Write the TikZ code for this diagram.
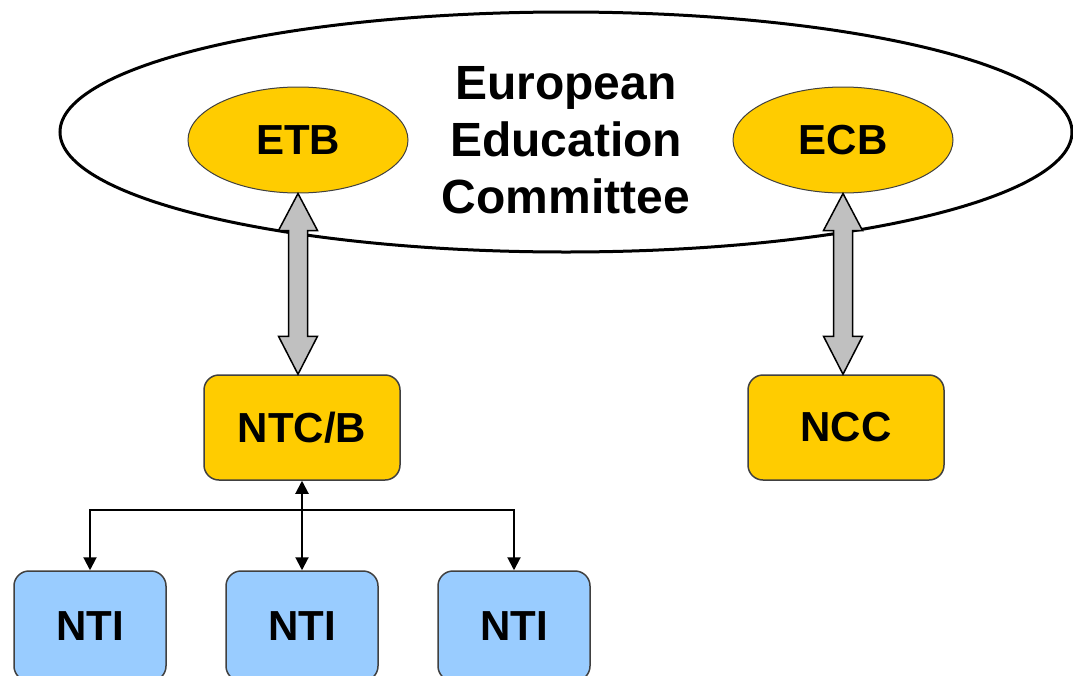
\documentclass[tikz,border=0pt]{standalone}
\usepackage{fontspec}
\setmainfont{Liberation Sans}
\usetikzlibrary{calc,arrows.meta,shapes.geometric}
\definecolor{gold}{HTML}{FFCC00}
\definecolor{sky}{HTML}{99CCFF}
\definecolor{edgegray}{HTML}{404040}
\definecolor{arrowgray}{HTML}{C0C0C0}
\begin{document}
\begin{tikzpicture}[x=1pt,y=-1pt,
  boxlabel/.style={font=\fontsize{42}{48}\selectfont\bfseries},
  goldbox/.style={rectangle, rounded corners=15pt, draw=edgegray, line width=1.5pt, fill=gold,
    minimum width=196pt, minimum height=105pt, inner sep=0pt, boxlabel},
  bluebox/.style={rectangle, rounded corners=15pt, draw=edgegray, line width=1.5pt, fill=sky,
    minimum width=152pt, minimum height=110pt, inner sep=0pt, boxlabel},
  goldoval/.style={ellipse, draw=edgegray, line width=1pt, fill=gold,
    minimum width=220pt, minimum height=106pt, inner sep=0pt, boxlabel},
  committee/.style={ellipse, draw=black, line width=3pt, minimum width=1012pt,
    minimum height=240pt, inner sep=0pt},
  titletext/.style={align=center, font=\fontsize{48}{57}\selectfont\bfseries},
  blockarrow/.style={draw=black, line width=1.5pt, fill=arrowgray, line join=miter},
  thinlink/.style={line width=2pt, {Triangle[length=13pt,width=13pt]}-{Triangle[length=13pt,width=13pt]}}
]
\useasboundingbox (0,0) rectangle (1073,675);
\fill[white] (0,0) rectangle (1073,675);

\node[committee] (eec) at (566,132) {};
\node[titletext] (title) at (566,140) {European\\Education\\Committee};
\node[goldoval] (etb) at (298,140) {ETB};
\node[goldoval] (ecb) at (843,140) {ECB};

\node[goldbox] (ntcb) at (302,427.5) {NTC/B};
\node[goldbox] (ncc) at (846,427.5) {NCC};

\node[bluebox] (nti1) at (90,626) {NTI};
\node[bluebox] (nti2) at (302,626) {NTI};
\node[bluebox] (nti3) at (514,626) {NTI};

% block double arrows
\draw[blockarrow] let \p1=(etb.south), \p2=(ntcb.north) in
  (\x1,\y1) -- (\x1+19.5pt,\y1-37pt) -- (\x1+9.5pt,\y1-37pt) -- (\x1+9.5pt,\y2+38pt)
  -- (\x1+19.5pt,\y2+38pt) -- (\x1,\y2) -- (\x1-19.5pt,\y2+38pt) -- (\x1-9.5pt,\y2+38pt)
  -- (\x1-9.5pt,\y1-37pt) -- (\x1-19.5pt,\y1-37pt) -- cycle;
\draw[blockarrow] let \p1=(ecb.south), \p2=(ncc.north) in
  (\x1,\y1) -- (\x1+19.5pt,\y1-37pt) -- (\x1+9.5pt,\y1-37pt) -- (\x1+9.5pt,\y2+38pt)
  -- (\x1+19.5pt,\y2+38pt) -- (\x1,\y2) -- (\x1-19.5pt,\y2+38pt) -- (\x1-9.5pt,\y2+38pt)
  -- (\x1-9.5pt,\y1-37pt) -- (\x1-19.5pt,\y1-37pt) -- cycle;

% thin connectors
\coordinate (bar) at (302,510);
\draw[thinlink] (ntcb.south) -- (nti2.north);
\draw[thinlink] (nti1.north) -- (bar -| nti1.north) -- (bar -| nti3.north) -- (nti3.north);
\end{tikzpicture}
\end{document}
